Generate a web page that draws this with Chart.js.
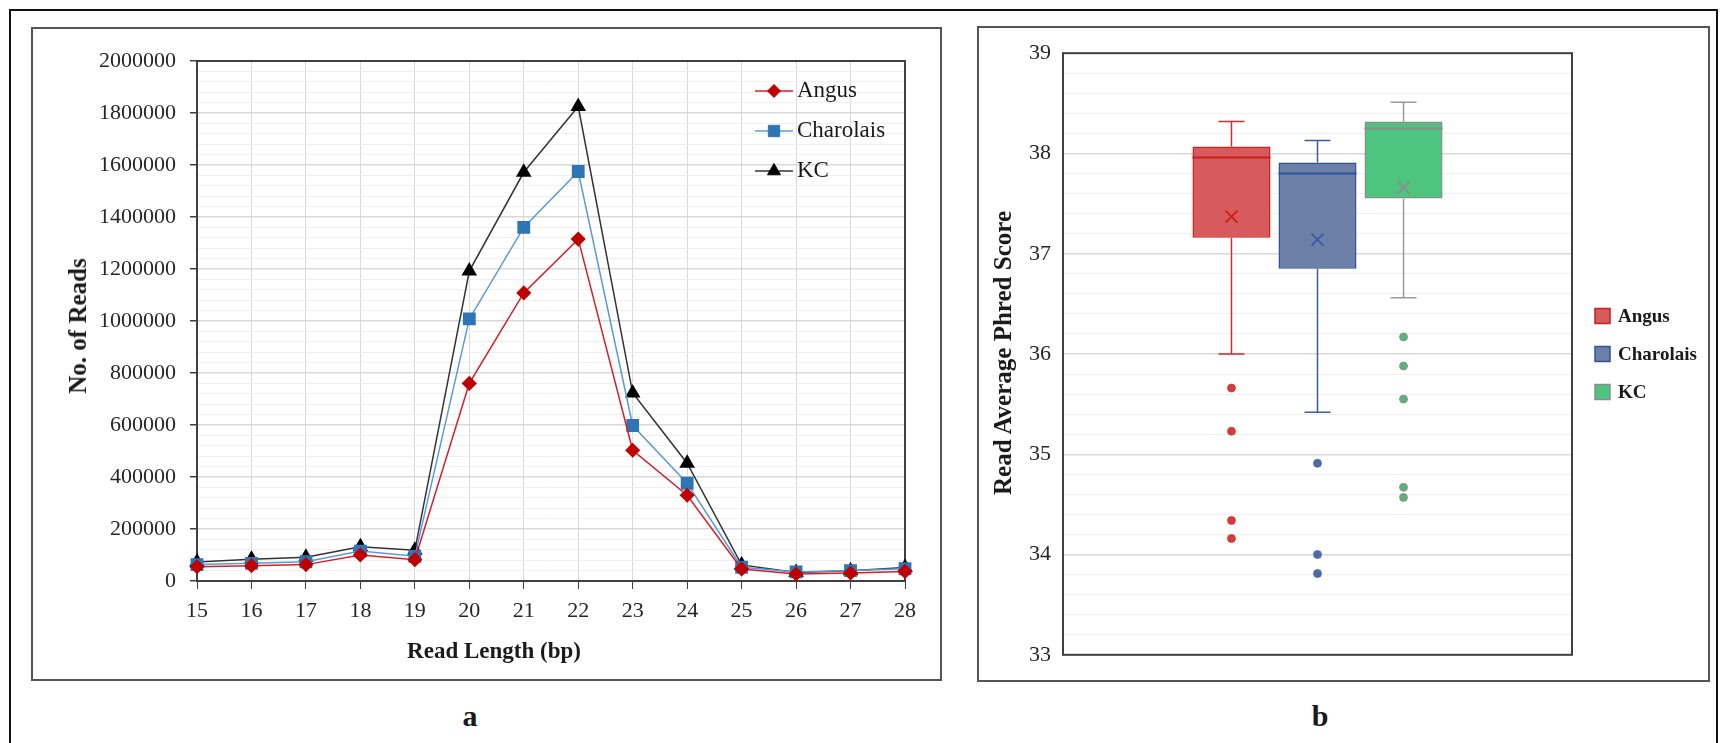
<!DOCTYPE html>
<html>
<head>
<meta charset="utf-8">
<title>Read length and Phred score</title>
<script src="https://cdn.jsdelivr.net/npm/chart.js@4.4.0/dist/chart.umd.min.js"></script>
<style>
  body {
    margin: 0;
    width: 1720px;
    height: 743px;
    overflow: hidden;
    position: relative;
    background: #fff;
    font-family: 'Liberation Serif', 'Times New Roman', serif;
    color: #1a1a1a;
  }
  .outer { position: absolute; left: 9px; top: 9px; width: 1705px; height: 800px; border: 2px solid #111; }
  .panel { position: absolute; box-sizing: border-box; border: 2px solid #555; }
  #panelA { left: 31px; top: 27px; width: 911px; height: 654px; }
  #panelB { left: 977px; top: 26px; width: 733px; height: 656px; }
  .panel canvas { position: absolute; left: 0; top: 0; }
  .txt { position: absolute; white-space: nowrap; font-weight: bold; transform: translate(-50%, -50%); }
  .vert { transform: translate(-50%, -50%) rotate(-90deg); }
</style>
</head>
<body>
<div class="outer"></div>
<div class="panel" id="panelA"><canvas id="readsChart" width="907" height="650"></canvas></div>
<div class="panel" id="panelB"><canvas id="phredChart" width="729" height="652"></canvas></div>

<div class="txt vert" style="left:78px; top:326px; font-size:25px;">No. of Reads</div>
<div class="txt" style="left:494px; top:651px; font-size:23px;">Read Length (bp)</div>
<div class="txt vert" style="left:1003px; top:353px; font-size:25px;">Read Average Phred Score</div>
<div class="txt" style="left:470px; top:716px; font-size:30px;">a</div>
<div class="txt" style="left:1320px; top:716px; font-size:30px;">b</div>

<script>
// Панель a: число ридов по длине
const readLengths = ['15', '16', '17', '18', '19', '20', '21', '22', '23', '24', '25', '26', '27', '28'];
const angusReads = [55000, 59000, 63000, 100000, 82000, 760000, 1108000, 1315000, 503000, 330000, 46000, 27000, 31000, 37000];
const charolaisReads = [63000, 68000, 74000, 115000, 95000, 1008000, 1360000, 1575000, 598000, 376000, 53000, 35000, 40000, 47000];
const kcReads = [73000, 84000, 91000, 132000, 118000, 1192000, 1572000, 1825000, 723000, 453000, 62000, 33000, 39000, 52000];

// Панель b: box plot среднего Phred
const breeds = ['Angus', 'Charolais', 'KC'];
const boxMin = [36.0, 35.42, 36.56];
const boxQ1 = [37.16, 36.85, 37.55];
const boxMedian = [37.96, 37.80, 38.25];
const boxQ3 = [38.07, 37.91, 38.32];
const boxMax = [38.32, 38.13, 38.51];
const boxMean = [37.37, 37.14, 37.66];
const boxOutliers = [
  [35.66, 35.23, 34.34, 34.16],
  [34.91, 34.00, 33.81],
  [36.17, 35.88, 35.55, 34.67, 34.57]
];

Chart.defaults.font.family = "'Liberation Serif', 'Times New Roman', serif";
Chart.defaults.color = '#262626';
Chart.defaults.animation = false;

// рамка вокруг области графика
const framePlugin = {
  id: 'frame',
  beforeDatasetsDraw(chart) {
    const a = chart.chartArea;
    const ctx = chart.ctx;
    ctx.save();
    ctx.strokeStyle = '#404040';
    ctx.lineWidth = 2;
    ctx.strokeRect(a.left, a.top, a.right - a.left, a.bottom - a.top);
    ctx.restore();
  }
};

// легенда внутри графика (линия + маркер)
const lineLegend = {
  id: 'lineLegend',
  afterDraw(chart) {
    const { ctx, chartArea } = chart;
    ctx.save();
    chart.data.datasets.forEach((ds, i) => {
      const y = chartArea.top + 30 + i * 40;
      const x0 = chartArea.right - 150;
      ctx.strokeStyle = ds.borderColor;
      ctx.lineWidth = ds.borderWidth;
      ctx.beginPath();
      ctx.moveTo(x0, y);
      ctx.lineTo(x0 + 38, y);
      ctx.stroke();
      ctx.fillStyle = ds.pointBackgroundColor;
      ctx.strokeStyle = ds.pointBorderColor;
      ctx.lineWidth = 1;
      Chart.helpers.drawPoint(ctx, { pointStyle: ds.pointStyle, radius: ds.pointRadius, rotation: 0, borderWidth: 1 }, x0 + 19, y);
      ctx.fillStyle = '#1a1a1a';
      ctx.font = "23px 'Liberation Serif'";
      ctx.textBaseline = 'middle';
      ctx.textAlign = 'left';
      ctx.fillText(ds.label, x0 + 42, y);
    });
    ctx.restore();
  }
};

const isMajor = (v, step) => Math.abs(v / step - Math.round(v / step)) < 1e-9;

new Chart(document.getElementById('readsChart'), {
  type: 'line',
  data: {
    labels: readLengths,
    datasets: [
      {
        label: 'Angus', data: angusReads,
        borderColor: '#D42027', borderWidth: 1.5,
        pointStyle: 'rectRot', pointRadius: 6.5,
        pointBackgroundColor: '#C00000', pointBorderColor: '#C00000',
        tension: 0, clip: false
      },
      {
        label: 'Charolais', data: charolaisReads,
        borderColor: '#5B9BD5', borderWidth: 1.5,
        pointStyle: 'rect', pointRadius: 8,
        pointBackgroundColor: '#2E75B6', pointBorderColor: '#2E75B6',
        tension: 0, clip: false
      },
      {
        label: 'KC', data: kcReads,
        borderColor: '#333333', borderWidth: 1.5,
        pointStyle: 'triangle', pointRadius: 7.5,
        pointBackgroundColor: '#000000', pointBorderColor: '#000000',
        tension: 0, clip: false
      }
    ]
  },
  options: {
    responsive: false,
    layout: { padding: { left: 0, top: 32, right: 35, bottom: 58 } },
    plugins: { legend: { display: false }, tooltip: { enabled: false } },
    scales: {
      x: {
        grid: { color: '#d9d9d9', lineWidth: 1, tickColor: '#404040', tickLength: 8 },
        border: { display: true, color: '#404040', width: 2 },
        ticks: { font: { size: 22 }, padding: 9, maxRotation: 0 },
        afterFit: (scale) => { scale.height = 40; }
      },
      y: {
        min: 0,
        max: 2000000,
        grid: {
          color: (c) => isMajor(c.tick.value, 200000) ? '#d9d9d9' : '#f0f0f0',
          lineWidth: (c) => isMajor(c.tick.value, 200000) ? 1.5 : 1,
          tickColor: (c) => isMajor(c.tick.value, 200000) ? '#404040' : 'rgba(0,0,0,0)',
          tickLength: 7
        },
        border: { display: true, color: '#404040', width: 2 },
        ticks: {
          stepSize: 40000,
          autoSkip: false,
          font: { size: 22 },
          padding: 14,
          callback: (v) => isMajor(v, 200000) ? String(v) : ''
        },
        afterFit: (scale) => { scale.width = 164; }
      }
    }
  },
  plugins: [framePlugin, lineLegend]
});

// усы, медиана, среднее и выбросы поверх прямоугольников
const boxPlugin = {
  id: 'boxParts',
  afterDatasetsDraw(chart) {
    const { ctx } = chart;
    const yScale = chart.scales.y;
    ctx.save();
    chart.data.datasets.forEach((ds, i) => {
      const bar = chart.getDatasetMeta(i).data[0];
      const x = bar.x;
      const w = bar.width;
      const py = (v) => yScale.getPixelForValue(v);
      ctx.strokeStyle = ds.whiskerColor;
      ctx.lineWidth = 1.5;
      ctx.beginPath();
      ctx.moveTo(x, py(boxQ3[i])); ctx.lineTo(x, py(boxMax[i]));
      ctx.moveTo(x - w / 6, py(boxMax[i])); ctx.lineTo(x + w / 6, py(boxMax[i]));
      ctx.moveTo(x, py(boxQ1[i])); ctx.lineTo(x, py(boxMin[i]));
      ctx.moveTo(x - w / 6, py(boxMin[i])); ctx.lineTo(x + w / 6, py(boxMin[i]));
      ctx.stroke();
      // медиана
      ctx.strokeStyle = ds.borderColor;
      ctx.lineWidth = 2;
      ctx.beginPath();
      ctx.moveTo(x - w / 2, py(boxMedian[i])); ctx.lineTo(x + w / 2, py(boxMedian[i]));
      ctx.stroke();
      // среднее (крестик)
      const m = py(boxMean[i]);
      ctx.strokeStyle = ds.meanColor;
      ctx.lineWidth = 1.8;
      ctx.beginPath();
      ctx.moveTo(x - 6, m - 6); ctx.lineTo(x + 6, m + 6);
      ctx.moveTo(x + 6, m - 6); ctx.lineTo(x - 6, m + 6);
      ctx.stroke();
      // выбросы
      ctx.fillStyle = ds.outlierColor;
      ctx.strokeStyle = ds.outlierBorder;
      ctx.lineWidth = 0.8;
      boxOutliers[i].forEach((v) => {
        ctx.beginPath();
        ctx.arc(x, py(v), 4, 0, Math.PI * 2);
        ctx.fill();
        ctx.stroke();
      });
    });
    ctx.restore();
  },
  afterDraw(chart) {
    const { ctx, chartArea } = chart;
    const cy = (chartArea.top + chartArea.bottom) / 2;
    ctx.save();
    chart.data.datasets.forEach((ds, i) => {
      const y = cy + (i - 1) * 38;
      const x = chartArea.right + 23;
      ctx.fillStyle = ds.backgroundColor;
      ctx.fillRect(x, y - 7.5, 15, 15);
      ctx.strokeStyle = ds.borderColor;
      ctx.lineWidth = 1.5;
      ctx.strokeRect(x, y - 7.5, 15, 15);
      ctx.fillStyle = '#1a1a1a';
      ctx.font = "bold 19px 'Liberation Serif'";
      ctx.textBaseline = 'middle';
      ctx.textAlign = 'left';
      ctx.fillText(ds.label, x + 23, y + 1);
    });
    ctx.restore();
  }
};

const boxColors = {
  fill: ['#D75A5C', '#6C7FA7', '#4DC480'],
  border: ['#C9211E', '#2F5597', '#8C8C8C'],
  whisker: ['#D42D2D', '#3B5CA0', '#9A9A9A'],
  mean: ['#C9211E', '#3B5CA0', '#8C8C8C'],
  outlier: ['#D33B3B', '#4C69A8', '#5DB27C'],
  outlierBorder: ['#D33B3B', '#4C69A8', '#8C8C8C']
};

new Chart(document.getElementById('phredChart'), {
  type: 'bar',
  data: {
    labels: [''],
    datasets: breeds.map((name, i) => ({
      label: name,
      data: [[boxQ1[i], boxQ3[i]]],
      backgroundColor: boxColors.fill[i],
      borderColor: boxColors.border[i],
      borderWidth: 1.5,
      borderSkipped: false,
      whiskerColor: boxColors.whisker[i],
      meanColor: boxColors.mean[i],
      outlierColor: boxColors.outlier[i],
      outlierBorder: boxColors.outlierBorder[i],
      categoryPercentage: 0.507,
      barPercentage: 0.907
    }))
  },
  options: {
    responsive: false,
    layout: { padding: { left: 0, top: 24, right: 136, bottom: 25 } },
    plugins: { legend: { display: false }, tooltip: { enabled: false } },
    scales: {
      x: { display: false },
      y: {
        min: 33,
        max: 39,
        grid: {
          color: (c) => isMajor(c.tick.value, 1) ? '#d9d9d9' : '#f0f0f0',
          lineWidth: (c) => isMajor(c.tick.value, 1) ? 1.5 : 1,
          drawTicks: false
        },
        border: { display: false },
        ticks: {
          stepSize: 0.2,
          autoSkip: false,
          font: { size: 22 },
          padding: 12,
          callback: (v) => isMajor(v, 1) ? String(Math.round(v)) : ''
        },
        afterFit: (scale) => { scale.width = 84; }
      }
    }
  },
  plugins: [framePlugin, boxPlugin]
});
</script>
</body>
</html>
